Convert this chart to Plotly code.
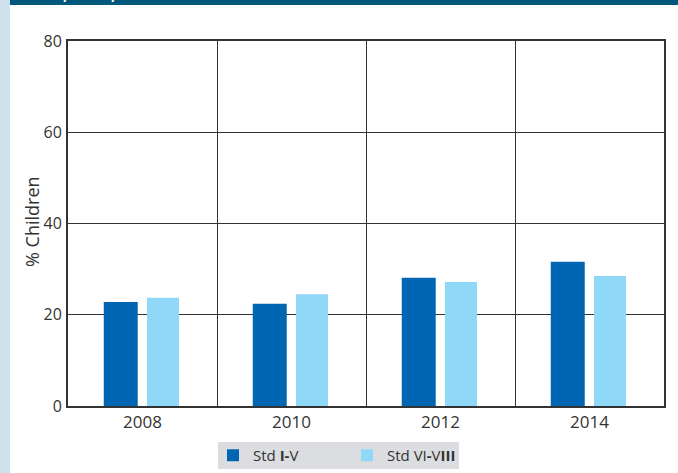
import plotly.graph_objects as go

years = ["2008", "2010", "2012", "2014"]
std_1_5 = [22.8, 22.4, 28.1, 31.6]
std_6_8 = [23.7, 24.5, 27.2, 28.5]
series_names = ["Std <b>I-</b>V", "Std VI<b>-</b>V<b>III</b>"]
y_ticks = [0, 20, 40, 60, 80]
y_title = "% Children"

W, H = 678, 473
L, R, T, B = 68, 664, 41, 406

def px_x(p):
    return (p - L) / (R - L)

def px_y(p):
    return (B - p) / (B - T)

fig = go.Figure()
fig.add_trace(go.Bar(x=years, y=std_1_5, name=series_names[0], marker_color="#0066b3",
                     width=0.228, offset=-0.26, marker_line_width=0))
fig.add_trace(go.Bar(x=years, y=std_6_8, name=series_names[1], marker_color="#8fd8f7",
                     width=0.215, offset=0.03, marker_line_width=0))

font = "Open Sans, Noto Sans, sans-serif"

fig.update_layout(
    width=W, height=H,
    margin=dict(l=L, r=W - R, t=T, b=H - B, pad=0, autoexpand=False),
    paper_bgcolor="white", plot_bgcolor="white",
    font=dict(family=font, size=15, color="#333333"),
    showlegend=True,
    legend=dict(orientation="h", xref="container", yref="container",
                x=213 / W, y=1 - 455.5 / H, xanchor="left", yanchor="middle",
                bgcolor="rgba(0,0,0,0)", font=dict(size=15, color="#333333"),
                entrywidth=89, entrywidthmode="pixels", traceorder="normal",
                itemclick=False),
    xaxis=dict(type="category", tickson="boundaries", showgrid=True, gridcolor="#333333",
               gridwidth=1, showline=True, linecolor="#333333", linewidth=2, mirror=True,
               ticks="", tickfont=dict(size=17, color="#333333"), range=[-0.5, 3.5]),
    yaxis=dict(range=[0, 80], tickvals=y_ticks, showgrid=True, gridcolor="#333333", gridwidth=1,
               showline=True, linecolor="#333333", linewidth=2, mirror=True, ticks="",
               ticklabelstandoff=1,
               tickfont=dict(size=16, color="#333333"), zeroline=False),
    shapes=[
        dict(type="rect", xref="paper", yref="paper", x0=px_x(0), x1=px_x(10), y0=px_y(H), y1=px_y(0),
             fillcolor="#cde0ec", line_width=0, layer="below"),
        dict(type="rect", xref="paper", yref="paper", x0=px_x(10), x1=px_x(W), y0=px_y(5), y1=px_y(0),
             fillcolor="#00587a", line_width=0, layer="below"),
        dict(type="rect", xref="paper", yref="paper", x0=px_x(218), x1=px_x(459), y0=px_y(469), y1=px_y(442),
             fillcolor="#dcdde0", line_width=0, layer="below"),
    ],
)

fig.add_annotation(text=y_title, xref="paper", yref="paper", x=px_x(32), y=px_y(222),
                   xanchor="center", yanchor="middle", textangle=-90, showarrow=False,
                   font=dict(size=18, color="#333333", family=font))

fig.add_annotation(text="<b>2008, 2010, 2012 and 2014</b>", xref="paper", yref="paper",
                   x=px_x(22), y=px_y(6.5), xanchor="left", yanchor="bottom", showarrow=False,
                   font=dict(size=17, color="white", family=font))

fig.write_html("out.html", config={"displayModeBar": False},
               post_script="document.body.style.margin='0';document.body.style.overflow='hidden';")
